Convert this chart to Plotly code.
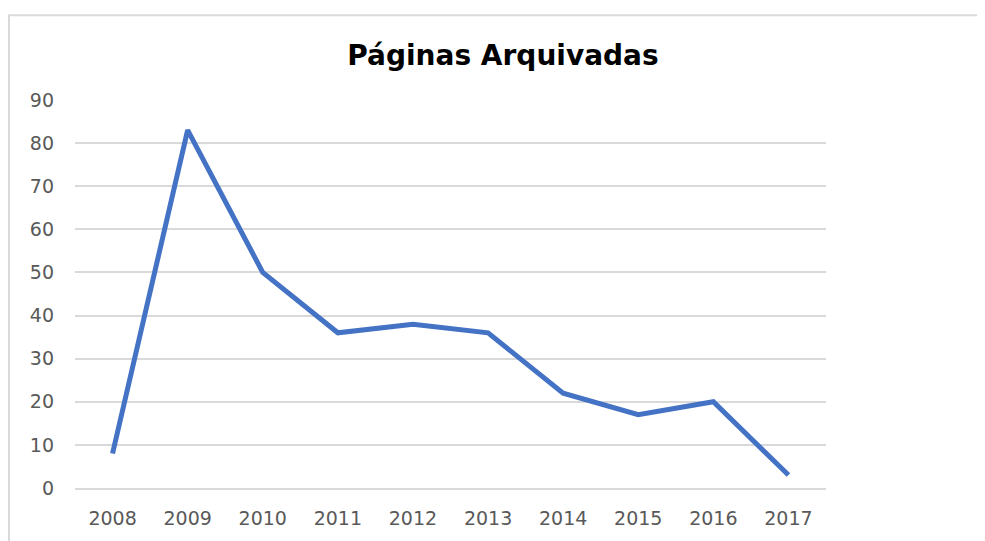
import plotly.graph_objects as go

years = ["2008", "2009", "2010", "2011", "2012", "2013", "2014", "2015", "2016", "2017"]
pages = [8, 83, 50, 36, 38, 36, 22, 17, 20, 3]
y_ticks = [0, 10, 20, 30, 40, 50, 60, 70, 80, 90]

# the page body has an 8px margin, so the figure is drawn 8px in from the corner
OFF = 8
W, H = 985 - OFF, 541 - OFF
L, R, T, B = 75 - OFF, 159, 100 - OFF, 47
pw, ph = W - L - R, H - T - B


def px_x(x):
    return (x - OFF - L) / pw


def px_y(y):
    return (H - B - (y - OFF)) / ph


fig = go.Figure()
fig.add_trace(go.Scatter(x=years, y=pages, mode="lines",
                         line=dict(color="#4472C4", width=5), hoverinfo="x+y"))

# outer chart frame (light grey border)
fig.add_shape(type="rect", xref="paper", yref="paper",
              x0=px_x(9), x1=px_x(1000), y0=px_y(560), y1=px_y(14),
              line=dict(color="#d9d9d9", width=2), fillcolor="rgba(0,0,0,0)", layer="below")

fig.update_layout(
    width=W, height=H,
    margin=dict(l=L, r=R, t=T, b=B),
    paper_bgcolor="white", plot_bgcolor="white",
    showlegend=False,
    font=dict(family="DejaVu Sans", color="#595959", size=19),
    title=dict(text="<b>Páginas Arquivadas</b>", x=(503 - OFF) / W, xanchor="center",
               y=1 - (55 - OFF) / H, yanchor="middle", yref="container",
               font=dict(family="DejaVu Sans", size=28, color="#000000")),
    xaxis=dict(type="category", range=[-0.5, 9.5], showgrid=False, zeroline=False,
               showline=True, linecolor="#d9d9d9", linewidth=1.5, ticks="",
               ticklabelstandoff=12, fixedrange=True),
    yaxis=dict(range=[0, 90], tickvals=y_ticks, showgrid=True, gridcolor="#d9d9d9",
               gridwidth=1.5, zeroline=False, showline=False, ticks="",
               ticklabelstandoff=20, fixedrange=True),
)

fig.write_html("out.html")
